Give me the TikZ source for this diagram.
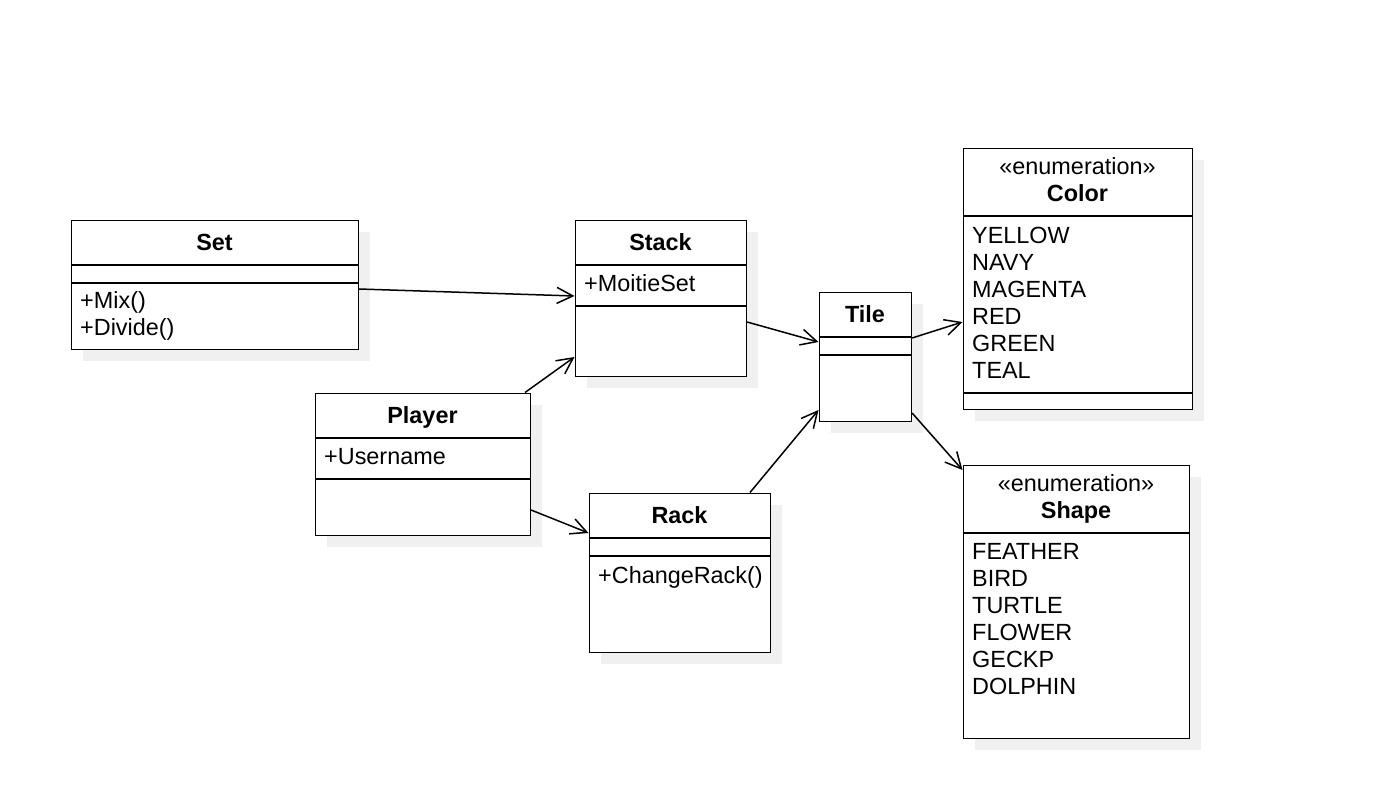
\documentclass[tikz,border=0pt]{standalone}
\usepackage{fontspec}
\setmainfont{Liberation Sans}
\usetikzlibrary{shadows,arrows.meta}

\tikzset{
  classbox/.style={rectangle, draw, line width=1.6pt, fill=white, anchor=north west, inner sep=0pt,
    drop shadow={shadow xshift=12pt, shadow yshift=-12pt, fill=black!6, opacity=1}},
  classname/.style={anchor=base, inner sep=0pt, font=\fontsize{23.4}{27}\selectfont\bfseries},
  members/.style={anchor=north west, align=left, inner sep=0pt},
  divider/.style={line width=1.6pt},
  link/.style={line width=1.5pt, ->},
  >={Straight Barb[length=16pt,width=16pt]}
}

\begin{document}
\begin{tikzpicture}[x=1pt, y=-1pt, every node/.style={font=\fontsize{23.4}{27}\selectfont}]
		\useasboundingbox (0,0) rectangle (1392,808);
		% boxes
		\path (70.5,219.5) node(set) [classbox, minimum width=287pt, minimum height=129pt] {};
		\path (574.5,219.5) node(stack) [classbox, minimum width=171pt, minimum height=156pt] {};
		\path (818.5,291.5) node(tile) [classbox, minimum width=92pt, minimum height=129pt] {};
		\path (962.5,147.5) node(color) [classbox, minimum width=229pt, minimum height=261pt] {};
		\path (314.5,392.5) node(player) [classbox, minimum width=215pt, minimum height=142pt] {};
		\path (588.5,492.5) node(rack) [classbox, minimum width=181pt, minimum height=159pt] {};
		\path (962.5,464.5) node(shape) [classbox, minimum width=226pt, minimum height=273pt] {};
		% compartments
		\draw [divider] (set.west |- 0,265) -- (set.east |- 0,265);
		\draw [divider] (set.west |- 0,283) -- (set.east |- 0,283);
		\draw [divider] (stack.west |- 0,265) -- (stack.east |- 0,265);
		\draw [divider] (stack.west |- 0,306) -- (stack.east |- 0,306);
		\draw [divider] (tile.west |- 0,337) -- (tile.east |- 0,337);
		\draw [divider] (tile.west |- 0,355) -- (tile.east |- 0,355);
		\draw [divider] (color.west |- 0,216) -- (color.east |- 0,216);
		\draw [divider] (color.west |- 0,393) -- (color.east |- 0,393);
		\draw [divider] (player.west |- 0,438) -- (player.east |- 0,438);
		\draw [divider] (player.west |- 0,479) -- (player.east |- 0,479);
		\draw [divider] (rack.west |- 0,538) -- (rack.east |- 0,538);
		\draw [divider] (rack.west |- 0,556) -- (rack.east |- 0,556);
		\draw [divider] (shape.west |- 0,533) -- (shape.east |- 0,533);
		% texts
		\path (214.5,250.5) node(setname) [classname] {Set};
		\path (80,291.5) node(setops) [members] {+Mix()\\+Divide()};
		\path (660.5,250.5) node(stackname) [classname] {Stack};
		\path (584,291.5) node(stackattr) [anchor=base west, inner sep=0pt] {+MoitieSet};
		\path (865,322.5) node(tilename) [classname] {Tile};
		\path (1077.5,157.5) node(colorhead) [anchor=north, align=center, inner sep=0pt] {«enumeration»\\\textbf{Color}};
		\path (972,227) node(colorvals) [members] {YELLOW\\NAVY\\MAGENTA\\RED\\GREEN\\TEAL};
		\path (422.5,423.5) node(playername) [classname] {Player};
		\path (324,464) node(playerattr) [anchor=base west, inner sep=0pt] {+Username};
		\path (679.5,523.5) node(rackname) [classname] {Rack};
		\path (598,583.5) node(rackops) [anchor=base west, inner sep=0pt] {+ChangeRack()};
		\path (1076,474.5) node(shapehead) [anchor=north, align=center, inner sep=0pt] {«enumeration»\\\textbf{Shape}};
		\path (972,543) node(shapevals) [members] {FEATHER\\BIRD\\TURTLE\\FLOWER\\GECKP\\DOLPHIN};
		% links
		\draw [link] (set.east |- 0,289) to (stack.west |- 0,296);
		\draw [link] (player.north -| 525,0) to (stack.west |- 0,357);
		\draw [link] (player.east |- 0,510) to (rack.west |- 0,533);
		\draw [link] (stack.east |- 0,322) to (tile.west |- 0,342);
		\draw [link] (rack.north -| 750,0) to (tile.west |- 0,410);
		\draw [link] (tile.east |- 0,338) to (color.west |- 0,322);
		\draw [link] (tile.east |- 0,413) to (shape.west |- 0,470);
	\end{tikzpicture}
\end{document}
